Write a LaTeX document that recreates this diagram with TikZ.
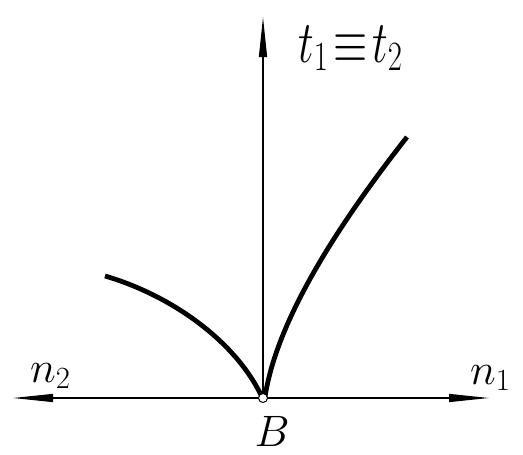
\RequirePackage{fix-cm}
\documentclass[tikz,border=0pt]{standalone}
\usetikzlibrary{arrows.meta}
\usetikzlibrary{positioning}
\tikzset{
  axis/.style = {-{Triangle[length=40pt, width=8pt]}, line width=1.3pt},
  curve/.style = {line width=4.8pt},
  pt_b/.style = {circle, draw, fill=white, line width=1pt, minimum size=9pt, inner sep=0pt},
  lbl/.style = {inner sep=0pt, font=\fontsize{44}{44}\selectfont},
}

\begin{document}
\begin{tikzpicture}[x=1pt, y=-1pt]
\useasboundingbox (0,0) rectangle (523,455);

\coordinate (n1tip) at (489,398);
\coordinate (n2tip) at (13,398);
\coordinate (ttip) at (263,17);
\coordinate (c1end) at (105,276);
\coordinate (c2end) at (407,137);

% axes
\draw[axis] (263,398) -- (n1tip);
\draw[axis] (263,398) -- (n2tip);
\draw[axis] (263,398) -- (ttip);

% the two branches
\draw[curve] (c1end) .. controls (170,295) and (235,340) .. (262,397);
\draw[curve] (265,397) .. controls (276,325) and (330,235) .. (c2end);

\node[pt_b] (B) at (263,398){};

\node[lbl, anchor=base west] (t) at (298,62) {\scalebox{1}[1.35]{$t_1\!\equiv\! t_2$}};
\node[lbl, anchor=base west] (n2) at (30,382) {$n_2$};
\node[lbl, anchor=base west] (n1) at (470,384) {$n_1$};
\node[lbl, anchor=base] (Blbl) at (272,446) {$B$};

\end{tikzpicture}
\end{document}
